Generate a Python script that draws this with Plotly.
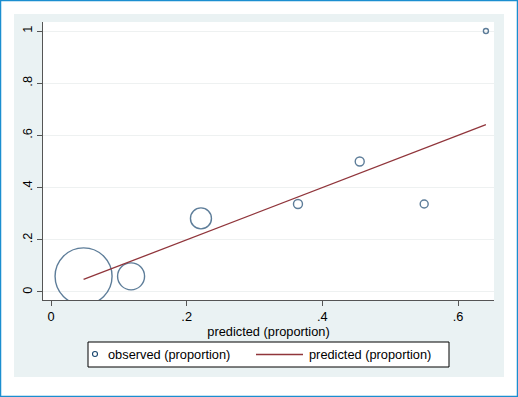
import plotly.graph_objects as go

# Data
predicted = [0.048, 0.118, 0.221, 0.364, 0.455, 0.550, 0.641]
observed = [0.060, 0.060, 0.282, 0.337, 0.500, 0.337, 1.000]
weights = [57, 27, 21, 9, 9, 8, 5]  # marker diameters (px) reflecting group size

x_ticks = [0, 0.2, 0.4, 0.6]
x_tick_labels = ["0", ".2", ".4", ".6"]
y_ticks = [0, 0.2, 0.4, 0.6, 0.8, 1.0]
y_tick_labels = ["0", ".2", ".4", ".6", ".8", "1"]

NAVY = "#1a476f"
MAROON = "#90353b"
FONT = "Liberation Sans, Arial, sans-serif"

W, H = 518, 397
L, R, T, B = 43, 494, 22, 300  # plot area pixel edges
pw, ph = R - L, B - T


def px(xp):
    return (xp - L) / pw


def py(yp):
    return (B - yp) / ph


fig = go.Figure()
fig.add_trace(go.Scatter(
    x=predicted, y=observed, mode="markers",
    marker=dict(size=weights, color="rgba(0,0,0,0)", line=dict(color=NAVY, width=1.4)),
    name="observed (proportion)", showlegend=False,
))
fig.add_trace(go.Scatter(
    x=predicted, y=predicted, mode="lines",
    line=dict(color=MAROON, width=1.3),
    name="predicted (proportion)", showlegend=False,
))


def white_strip(x0, x1, y0, y1):
    return dict(type="rect", xref="paper", yref="paper", x0=px(x0), x1=px(x1), y0=py(y1), y1=py(y0),
                fillcolor="white", line=dict(width=0), layer="above")


shapes = [
    # white outer frame around the light bluish-gray graph region
    white_strip(0, W, 0, 14),
    white_strip(0, W, 377, H),
    white_strip(0, 14, 0, H),
    white_strip(504, W, 0, H),
    # outer blue border
    dict(type="rect", xref="paper", yref="paper", x0=px(0.5), x1=px(W - 0.5), y0=py(H - 0.5), y1=py(0.5),
         fillcolor="rgba(0,0,0,0)", line=dict(color="#1b8ed0", width=1.5), layer="above"),
    # legend box
    dict(type="rect", xref="paper", yref="paper", x0=px(88), x1=px(449), y0=py(367), y1=py(342),
         fillcolor="white", line=dict(color="black", width=1), layer="above"),
    # legend marker
    dict(type="circle", xref="paper", yref="paper", x0=px(92.5), x1=px(97.5), y0=py(356.5), y1=py(351.5),
         fillcolor="rgba(0,0,0,0)", line=dict(color=NAVY, width=1.1), layer="above"),
    # legend line
    dict(type="line", xref="paper", yref="paper", x0=px(256), x1=px(303), y0=py(354.5), y1=py(354.5),
         line=dict(color=MAROON, width=1.3), layer="above"),
]

annotations = [
    dict(text="observed (proportion)", xref="paper", yref="paper", x=px(106), y=py(354.5),
         xanchor="left", yanchor="middle", showarrow=False, font=dict(family=FONT, size=12.8, color="black")),
    dict(text="predicted (proportion)", xref="paper", yref="paper", x=px(307), y=py(354.5),
         xanchor="left", yanchor="middle", showarrow=False, font=dict(family=FONT, size=12.8, color="black")),
]

fig.update_layout(
    width=W, height=H,
    margin=dict(l=L, r=W - R, t=T, b=H - B, pad=0),
    paper_bgcolor="#eaf2f3", plot_bgcolor="white",
    font=dict(family=FONT, size=12.8, color="black"),
    shapes=shapes, annotations=annotations,
    showlegend=False,
    xaxis=dict(
        range=[-0.0118, 0.6529], tickvals=x_ticks, ticktext=x_tick_labels,
        showgrid=False, zeroline=False, showline=True, linecolor="#555555", linewidth=1,
        ticks="outside", ticklen=5, tickcolor="#555555",
        title=dict(text="predicted (proportion)", standoff=1, font=dict(size=12.8)),
    ),
    yaxis=dict(
        range=[-0.0307, 1.0345], tickvals=y_ticks, ticktext=y_tick_labels, tickangle=-90,
        showgrid=True, gridcolor="#eef1f1", gridwidth=1, zeroline=False,
        showline=True, linecolor="#555555", linewidth=1,
        ticks="outside", ticklen=5, tickcolor="#555555",
    ),
)

fig.write_html("out.html", config={"displayModeBar": False},
               post_script="document.body.style.margin='0';")
